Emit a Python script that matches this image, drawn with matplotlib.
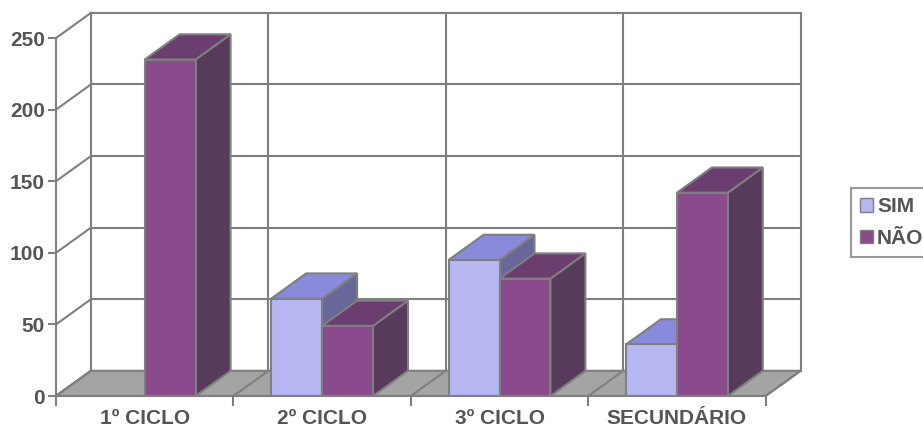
import numpy as np
import matplotlib.pyplot as plt
from matplotlib.patches import Polygon, Rectangle

# --- data ---
categories = ["1º CICLO", "2º CICLO", "3º CICLO", "SECUNDÁRIO"]
series_names = ["SIM", "NÃO"]
sim_values = [0, 68, 95, 36]
nao_values = [235, 49, 82, 142]
y_ticks = [0, 50, 100, 150, 200, 250]

# --- style ---
FACE = {"SIM": "#b6b6f2", "NÃO": "#8a4a8c"}
TOP = {"SIM": "#8a8adc", "NÃO": "#6c3e70"}
SIDE = {"SIM": "#676799", "NÃO": "#583a5c"}
EDGE = "#7f7f7f"
TEXT = "#555555"
FLOOR = "#a4a4a4"

DX, DY = 0.197, 17.6      # depth offset (category units, value units)
BAR_W = 0.287
GAP = (1 - 2 * BAR_W) / 2

plt.rcParams['font.family'] = ['Liberation Sans', 'DejaVu Sans']

fig = plt.figure(figsize=(9.23, 4.29), dpi=100)
ax = fig.add_axes([56 / 923, 33 / 429, (810 - 56) / 923, (396 - 9.4) / 429])
ax.set_xlim(0, 4.25)
ax.set_ylim(0, 270)

n = len(categories)

# back wall grid
for v in y_ticks:
    ax.plot([DX, n + DX], [v + DY, v + DY], color=EDGE, lw=1.5, zorder=1)
    # left side wall
    ax.plot([0, DX], [v, v + DY], color=EDGE, lw=1.5, zorder=1)
for k in range(n + 1):
    ax.plot([k + DX, k + DX], [DY, y_ticks[-1] + DY], color=EDGE, lw=1.5, zorder=1)

# floor
ax.add_patch(Polygon([(0, 0), (n, 0), (n + DX, DY), (DX, DY)],
                     closed=True, facecolor=FLOOR, edgecolor=EDGE, lw=1.5, zorder=2))
for k in range(n + 1):
    ax.plot([k, k + DX], [0, DY], color=EDGE, lw=1.5, zorder=2)


def draw_bar(x0, v, name, z):
    if v <= 0:
        return
    x1 = x0 + BAR_W
    ax.add_patch(Polygon([(x1, 0), (x1 + DX, DY), (x1 + DX, v + DY), (x1, v)],
                         closed=True, facecolor=SIDE[name], edgecolor=EDGE,
                         lw=1.5, zorder=z))
    ax.add_patch(Polygon([(x0, v), (x1, v), (x1 + DX, v + DY), (x0 + DX, v + DY)],
                         closed=True, facecolor=TOP[name], edgecolor=EDGE,
                         lw=1.5, zorder=z))
    ax.add_patch(Rectangle((x0, 0), BAR_W, v, facecolor=FACE[name],
                           edgecolor=EDGE, lw=1.5, zorder=z))


z = 3
for i in range(n):
    draw_bar(i + GAP, sim_values[i], "SIM", z)
    z += 1
    draw_bar(i + GAP + BAR_W, nao_values[i], "NÃO", z)
    z += 1

# axes: front value axis and category axis
for s in ["top", "right"]:
    ax.spines[s].set_visible(False)
ax.spines["left"].set_bounds(0, y_ticks[-1])
ax.spines["bottom"].set_bounds(0, n)
for s in ["left", "bottom"]:
    ax.spines[s].set_color(EDGE)
    ax.spines[s].set_linewidth(1.5)
    ax.spines[s].set_zorder(20)

ax.set_yticks(y_ticks)
ax.set_yticklabels([str(v) for v in y_ticks])
ax.set_xticks(range(n + 1))
ax.set_xticklabels([""] * (n + 1))
ax.set_xticks([i + 0.5 for i in range(n)], minor=True)
ax.set_xticklabels(categories, minor=True)
ax.tick_params(axis="y", length=6, width=1.5, color=EDGE, labelsize=15,
               labelcolor=TEXT, pad=2)
ax.tick_params(axis="x", which="major", length=7, width=1.5, color=EDGE)
ax.tick_params(axis="x", which="minor", length=0, labelsize=15,
               labelcolor=TEXT, pad=9)
for lab in ax.get_yticklabels() + ax.get_xticklabels(minor=True):
    lab.set_fontweight("bold")
ax.set_facecolor("white")

# legend
handles = [Rectangle((0, 0), 1, 1, facecolor=FACE[s], edgecolor=EDGE, lw=1)
           for s in series_names]
leg = fig.legend(handles, series_names, loc="upper left",
                 bbox_to_anchor=(851 / 923, 1 - 188 / 429), borderaxespad=0,
                 frameon=True, fancybox=False, handlelength=0.6,
                 handleheight=0.6, handletextpad=0.2, labelspacing=0.6,
                 borderpad=0.45, prop={"size": 15, "weight": "bold"})
leg.get_frame().set_edgecolor(EDGE)
leg.get_frame().set_linewidth(1.5)
for t in leg.get_texts():
    t.set_color(TEXT)

fig.savefig("out.png", dpi=100)
